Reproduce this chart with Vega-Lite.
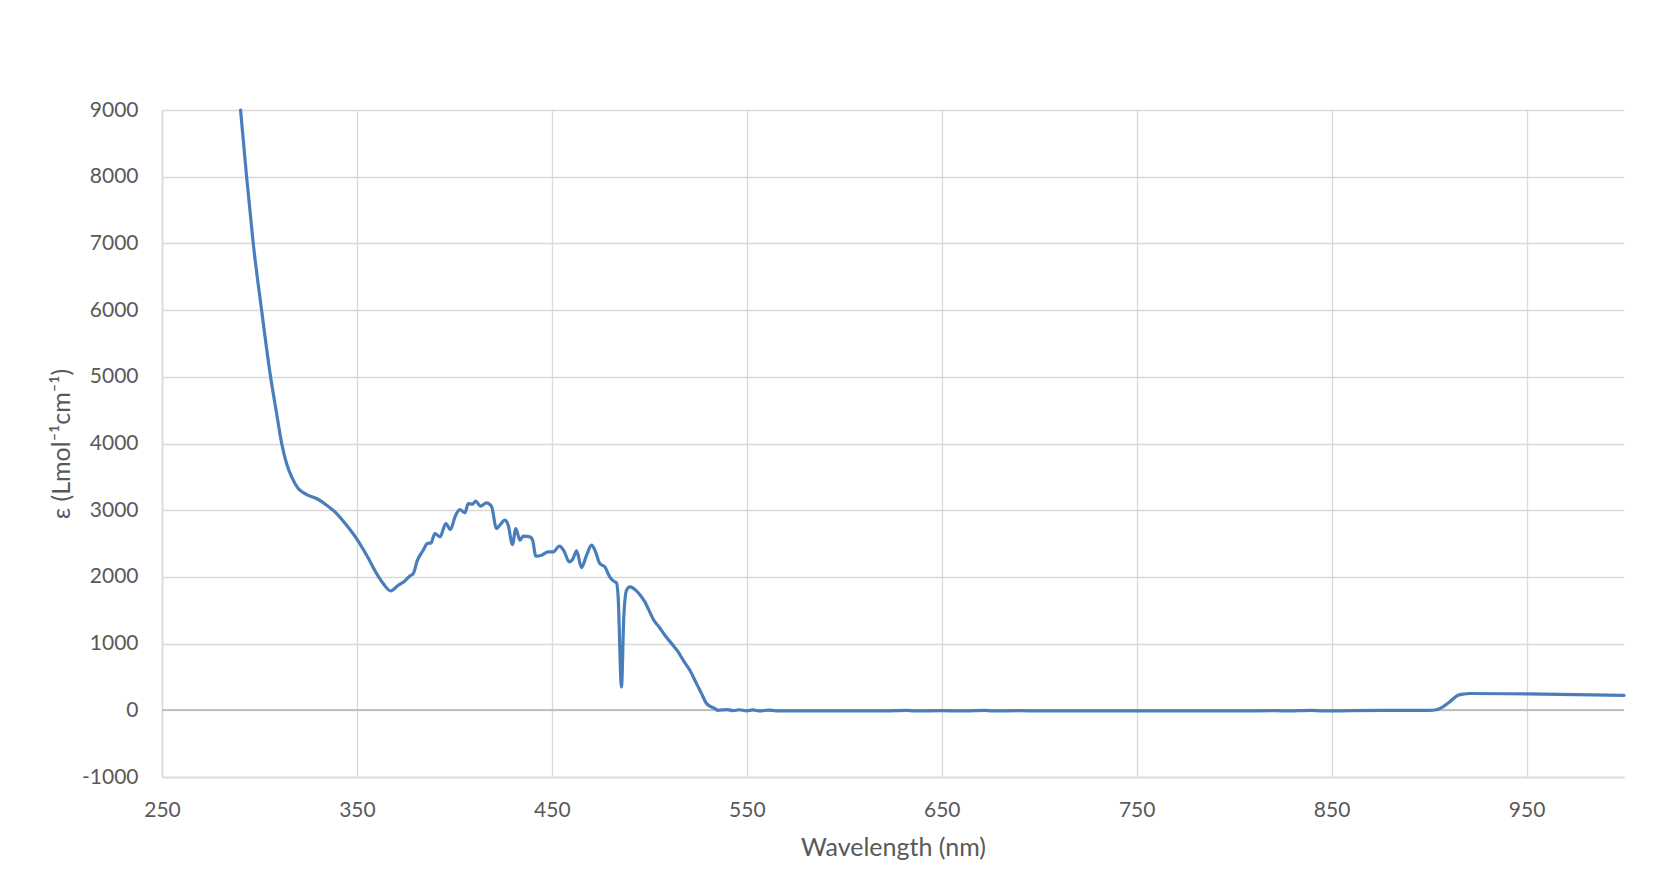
{
  "$schema": "https://vega.github.io/schema/vega-lite/v6.json",
  "autosize": "none",
  "width": 1462,
  "height": 667,
  "padding": {"left": 162, "top": 110, "right": 37, "bottom": 114},
  "background": "#ffffff",
  "config": {
    "view": {"stroke": null},
    "font": "Lato",
    "axis": {
      "labelFont": "Lato",
      "titleFont": "Lato",
      "labelColor": "#595959",
      "titleColor": "#595959",
      "labelFontSize": 21,
      "titleFontSize": 25,
      "titleFontWeight": "normal",
      "gridColor": "#d9d9d9",
      "gridWidth": 1.3,
      "domainColor": "#d9d9d9",
      "domainWidth": 1.5,
      "ticks": false,
      "labelFlush": false
    }
  },
  "data": {
    "values": [
      {"w": 290.3, "e": 9000}, {"w": 293.4, "e": 8000}, {"w": 296.8, "e": 7000},
      {"w": 301.1, "e": 6000}, {"w": 305.7, "e": 5000}, {"w": 308.8, "e": 4450},
      {"w": 311.4, "e": 4000}, {"w": 313.9, "e": 3700}, {"w": 316.5, "e": 3500},
      {"w": 319.9, "e": 3325}, {"w": 324.2, "e": 3235}, {"w": 329.3, "e": 3175},
      {"w": 334.5, "e": 3075}, {"w": 339.6, "e": 2950}, {"w": 344.7, "e": 2775},
      {"w": 349.8, "e": 2575}, {"w": 355.0, "e": 2325}, {"w": 360.1, "e": 2050},
      {"w": 363.5, "e": 1900}, {"w": 367.3, "e": 1790}, {"w": 371.2, "e": 1875},
      {"w": 374.6, "e": 1940}, {"w": 377.2, "e": 2015}, {"w": 378.9, "e": 2050},
      {"w": 380.9, "e": 2240}, {"w": 384.0, "e": 2400}, {"w": 386.1, "e": 2500},
      {"w": 388.0, "e": 2510}, {"w": 390.0, "e": 2650}, {"w": 392.6, "e": 2600},
      {"w": 395.6, "e": 2800}, {"w": 398.0, "e": 2710}, {"w": 400.3, "e": 2900},
      {"w": 402.8, "e": 3010}, {"w": 405.4, "e": 2960}, {"w": 407.1, "e": 3100},
      {"w": 409.3, "e": 3090}, {"w": 410.9, "e": 3135}, {"w": 413.4, "e": 3060},
      {"w": 416.5, "e": 3110}, {"w": 419.0, "e": 3060}, {"w": 421.6, "e": 2725},
      {"w": 423.3, "e": 2775}, {"w": 425.9, "e": 2850}, {"w": 427.6, "e": 2775},
      {"w": 429.8, "e": 2485}, {"w": 431.5, "e": 2725}, {"w": 433.6, "e": 2550},
      {"w": 435.3, "e": 2610}, {"w": 438.7, "e": 2600}, {"w": 440.1, "e": 2550},
      {"w": 441.8, "e": 2310}, {"w": 444.7, "e": 2325}, {"w": 448.1, "e": 2375},
      {"w": 450.7, "e": 2375}, {"w": 453.8, "e": 2460}, {"w": 456.2, "e": 2390},
      {"w": 458.9, "e": 2225}, {"w": 460.6, "e": 2260}, {"w": 462.7, "e": 2390},
      {"w": 465.2, "e": 2140}, {"w": 467.8, "e": 2325}, {"w": 470.4, "e": 2475},
      {"w": 472.1, "e": 2400}, {"w": 474.6, "e": 2200}, {"w": 477.2, "e": 2150},
      {"w": 479.7, "e": 2000}, {"w": 481.5, "e": 1940}, {"w": 483.2, "e": 1910},
      {"w": 484.0, "e": 1700}, {"w": 485.7, "e": 350}, {"w": 486.9, "e": 1400},
      {"w": 488.3, "e": 1800}, {"w": 490.0, "e": 1850}, {"w": 493.4, "e": 1790},
      {"w": 496.0, "e": 1700}, {"w": 497.7, "e": 1625}, {"w": 499.4, "e": 1525},
      {"w": 502.3, "e": 1350}, {"w": 505.0, "e": 1250}, {"w": 508.0, "e": 1125},
      {"w": 511.4, "e": 1000}, {"w": 514.8, "e": 875}, {"w": 517.4, "e": 750},
      {"w": 520.8, "e": 600}, {"w": 524.2, "e": 400}, {"w": 526.8, "e": 250},
      {"w": 529.4, "e": 100}, {"w": 533.7, "e": 25}, {"w": 535.0, "e": 0},
      {"w": 540, "e": 10}, {"w": 543, "e": -5}, {"w": 546, "e": 8},
      {"w": 550, "e": -8}, {"w": 553, "e": 5}, {"w": 557, "e": -10},
      {"w": 561, "e": 4}, {"w": 565, "e": -8}, {"w": 575, "e": -10},
      {"w": 600, "e": -10}, {"w": 620, "e": -10}, {"w": 632, "e": 0},
      {"w": 636, "e": -10}, {"w": 650, "e": -5}, {"w": 660, "e": -10},
      {"w": 672, "e": 0}, {"w": 676, "e": -10}, {"w": 690, "e": -5},
      {"w": 700, "e": -10}, {"w": 750, "e": -10}, {"w": 800, "e": -10},
      {"w": 822, "e": -5}, {"w": 826, "e": -10}, {"w": 840, "e": 0},
      {"w": 845, "e": -10}, {"w": 860, "e": -5}, {"w": 880, "e": 0},
      {"w": 900, "e": 0}, {"w": 903.7, "e": 8}, {"w": 905.4, "e": 25},
      {"w": 910.5, "e": 125}, {"w": 914.8, "e": 225}, {"w": 918, "e": 245},
      {"w": 920.8, "e": 252}, {"w": 950, "e": 245}, {"w": 1000, "e": 225}
    ]
  },
  "encoding": {
    "x": {
      "field": "w",
      "type": "quantitative",
      "scale": {"domain": [250, 1000], "nice": false, "zero": false},
      "axis": {
        "values": [250, 350, 450, 550, 650, 750, 850, 950],
        "format": "d",
        "labelPadding": 22,
        "title": "Wavelength (nm)",
        "titlePadding": 15
      }
    },
    "y": {
      "field": "e",
      "type": "quantitative",
      "scale": {"domain": [-1000, 9000], "nice": false},
      "axis": {
        "values": [-1000, 0, 1000, 2000, 3000, 4000, 5000, 6000, 7000, 8000, 9000],
        "labelExpr": "datum.value < 0 ? '-' + abs(datum.value) : '' + datum.value",
        "labelPadding": 24,
        "title": "ε (Lmol⁻¹cm⁻¹)",
        "titlePadding": 7
      }
    }
  },
  "layer": [
    {
      "mark": {"type": "rule", "color": "#bfbfbf", "strokeWidth": 1.5},
      "encoding": {"y": {"datum": 0}, "x": null}
    },
    {
      "mark": {"type": "line", "color": "#4a7ebb", "strokeWidth": 3.2, "interpolate": "monotone", "strokeJoin": "round", "strokeCap": "round"}
    }
  ]
}
